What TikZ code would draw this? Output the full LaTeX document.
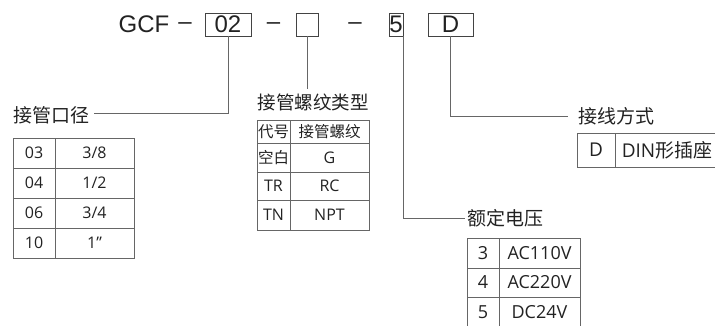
\documentclass[tikz,border=0pt]{standalone}
\usepackage{fontspec}
\setmainfont{Open Sans}
\newfontfamily\cjk{Noto Sans CJK SC}
\newfontfamily\arial{Liberation Sans}
\definecolor{ink}{HTML}{222222}
\definecolor{rulegray}{HTML}{666666}
\begin{document}
\begin{tikzpicture}[x=1pt,y=-1pt,
  cell/.style={draw=rulegray, line width=0.8pt, inner sep=0pt, outer sep=0pt, anchor=north west, text=ink},
  topbox/.style={draw=ink!85, line width=0.9pt, inner sep=0pt, outer sep=0pt, minimum height=23pt, font=\arial\fontsize{24}{24}\selectfont, text=ink},
  toptext/.style={anchor=base, inner sep=0pt, font=\arial\fontsize{24}{24}\selectfont, text=ink},
  lbl/.style={inner sep=0pt, font=\cjk\fontsize{19}{19}\selectfont, text=ink},
  conn/.style={draw=rulegray, line width=0.8pt},
  fa/.style={font=\fontsize{16}{16}\selectfont},
  fc/.style={font=\cjk\fontsize{15.5}{15.5}\selectfont},
  fv/.style={font=\fontsize{18}{18}\selectfont},
  fd/.style={font=\fontsize{19}{19}\selectfont}]
\useasboundingbox (0,0) rectangle (715,326);
\clip (0,0) rectangle (715,326);
% top code
\node[toptext] (gcf) at (144,33) {GCF};
\node[toptext] (d1) at (185,30) {–};
\node[topbox, minimum width=46pt] (b02) at (228,24.5) {02};
\node[toptext] (d2) at (273.5,30) {–};
\node[topbox, minimum width=22pt] (bE) at (307,24.5) {};
\node[toptext] (d3) at (355,30) {–};
\node[topbox, minimum width=14pt] (b5) at (396,24.5) {5};
\node[topbox, minimum width=45pt] (bD) at (450.5,24.5) {D};
% labels
\node[lbl] (l1) at (51.5,115) {接管口径};
\node[lbl, font=\cjk\fontsize{18.5}{18.5}\selectfont] (l2) at (313,102) {接管螺纹类型};
\node[lbl] (l3) at (505,218) {额定电压};
\node[lbl] (l4) at (616.5,116) {接线方式};
% connectors
\draw[conn] (b02.south) |- ([xshift=4pt,yshift=2pt]l1.east);
\draw[conn, shorten >=4pt] (bE.south) -- (bE.south |- l2.north);
\draw[conn] (b5.south east) |- ([xshift=-2pt]l3.west);
\draw[conn] (bD.south) |- ([xshift=-10pt]l4.west);
% table 1
\begin{scope}[every node/.append style={fa, minimum height=30pt}]
\node[cell, minimum width=42pt] (ta1) at (13,138) {03};
\node[cell, minimum width=79pt] (tb1) at (55,138) {3/8};
\node[cell, minimum width=42pt] (ta2) at (13,168) {04};
\node[cell, minimum width=79pt] (tb2) at (55,168) {1/2};
\node[cell, minimum width=42pt] (ta3) at (13,198) {06};
\node[cell, minimum width=79pt] (tb3) at (55,198) {3/4};
\node[cell, minimum width=42pt] (ta4) at (13,228) {10};
\node[cell, minimum width=79pt] (tb4) at (55,228) {1"};
\end{scope}
% table 2
\node[cell, fc, minimum width=33pt, minimum height=23pt] (ua1) at (257,120) {代号};
\node[cell, fc, minimum width=79pt, minimum height=23pt] (ub1) at (290,120) {接管螺纹};
\node[cell, fc, minimum width=33pt, minimum height=29pt] (ua2) at (257,143) {空白};
\node[cell, fa, minimum width=79pt, minimum height=29pt] (ub2) at (290,143) {G};
\node[cell, fa, minimum width=33pt, minimum height=28pt] (ua3) at (257,172) {TR};
\node[cell, fa, minimum width=79pt, minimum height=28pt] (ub3) at (290,172) {RC};
\node[cell, fa, minimum width=33pt, minimum height=30pt] (ua4) at (257,200) {TN};
\node[cell, fa, minimum width=79pt, minimum height=30pt] (ub4) at (290,200) {NPT};
% table 3
\node[cell, fv, minimum width=32pt, minimum height=30pt] (va1) at (467,238) {3};
\node[cell, fv, minimum width=81pt, minimum height=30pt] (vb1) at (499,238) {AC110V};
\node[cell, fv, minimum width=32pt, minimum height=29pt] (va2) at (467,268) {4};
\node[cell, fv, minimum width=81pt, minimum height=29pt] (vb2) at (499,268) {AC220V};
\node[cell, fv, minimum width=32pt, minimum height=30pt] (va3) at (467,297) {5};
\node[cell, fv, minimum width=81pt, minimum height=30pt] (vb3) at (499,297) {DC24V};
% table 4
\node[cell, fd, minimum width=38pt, minimum height=34pt] (wa1) at (577,133) {D};
\node[cell, fd, minimum width=104pt, minimum height=34pt] (wb1) at (615,133) {DIN{\cjk 形插座}};
\end{tikzpicture}
\end{document}
